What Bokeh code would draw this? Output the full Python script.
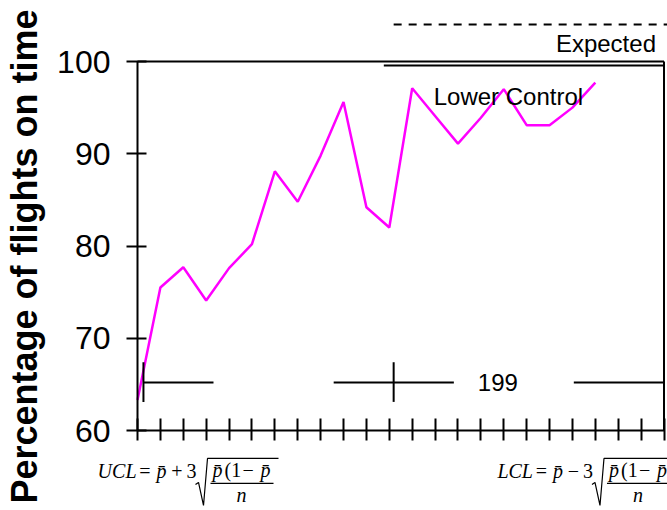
import math
from bokeh.plotting import figure
from bokeh.models import Range1d, FixedTicker, Label
from bokeh.embed import file_html
from bokeh.resources import INLINE

# ---- data ----
periods = list(range(21))
pct_on_time = [63.3, 75.5, 77.7, 74.1, 77.6, 80.2, 88.1, 84.8, 89.8, 95.6,
               84.2, 82.0, 97.1, 94.1, 91.1, 93.9, 97.0, 93.1, 93.1, 95.0, 97.7]
y_ticks = [60, 70, 80, 90, 100]
x_ticks = list(range(24))
y_title = "Percentage of flights on time"

expected_text = "Expected"
lower_text = "Lower Control"
run_text = "199"

# reference/annotation levels (data units)
expected_level = 104.0
expected_start = 11.19
lower_level = 99.57
lower_start = 10.76
run_level = 65.2
run_seg_start = [0.26, 8.57, 19.06]
run_seg_end = [3.32, 13.82, 23.0]
run_marks = [0.26, 11.19, 23.0]
run_text_x = 15.74

# axis box in data units and its place on the canvas
X0, X1, Y0, Y1 = 0, 23, 60, 100
W, H = 667, 510
FL, FR, FT, FB = 137, 663.5, 61, 430      # edges of the axis box (px)
PXX = (FR - FL) / (X1 - X0)
PXY = (FB - FT) / (Y1 - Y0)
xr = Range1d(X0 - FL / PXX, X1 + (W - FR) / PXX)
yr = Range1d(Y0 - (H - FB) / PXY, Y1 + FT / PXY)
BASE_FIX = 0.375   # label baseline correction (fraction of font size)

p = figure(width=W, height=H, output_backend="svg", toolbar_location=None,
           x_range=xr, y_range=yr, title=None,
           min_border=0, background_fill_color="white",
           border_fill_color="white")
p.grid.visible = False
p.outline_line_color = None

yax = p.yaxis[0]
yax.fixed_location = X0
yax.bounds = (Y0, Y1)
yax.ticker = FixedTicker(ticks=y_ticks)
yax.major_tick_in = 9
yax.major_tick_out = 11
yax.minor_tick_line_color = None
yax.axis_line_width = 2
yax.major_tick_line_width = 2
yax.axis_line_color = "black"
yax.major_tick_line_color = "black"
yax.major_label_text_font = "Liberation Sans"
yax.major_label_text_font_size = "32px"
yax.major_label_text_color = "black"
yax.major_label_standoff = 16

xax = p.xaxis[0]
xax.fixed_location = Y0
xax.bounds = (X0, X1)
xax.ticker = FixedTicker(ticks=x_ticks)
xax.major_tick_in = 12
xax.major_tick_out = 10
xax.minor_tick_line_color = None
xax.axis_line_width = 2
xax.major_tick_line_width = 2
xax.axis_line_color = "black"
xax.major_tick_line_color = "black"
xax.major_label_overrides = {t: "" for t in x_ticks}

# top and right sides of the axis box
p.segment(x0=[X0, X1], y0=[Y1, Y0], x1=[X1, X1], y1=[Y1, Y1],
          line_color="black", line_width=2)

# data series
p.line(periods, pct_on_time, line_color="#FF00FF", line_width=2.5)

# expected (dashed) and lower control lines
p.segment(x0=[expected_start], y0=[expected_level], x1=[X1 + 1], y1=[expected_level],
          line_color="black", line_width=2, line_dash="8 7")
p.segment(x0=[lower_start], y0=[lower_level], x1=[X1], y1=[lower_level],
          line_color="black", line_width=2)

# run marker
p.segment(x0=run_seg_start, y0=[run_level] * 3, x1=run_seg_end, y1=[run_level] * 3,
          line_color="black", line_width=2)
p.segment(x0=run_marks, y0=[run_level - 2.1] * 3, x1=run_marks, y1=[run_level + 2.2] * 3,
          line_color="black", line_width=2)

SANS = "Liberation Sans"
SERIF = "Liberation Serif"


def label(x, y, txt, fs, font=SANS, align="left", style="normal", dx=0, dy=0):
    p.add_layout(Label(x=x, y=y, x_offset=dx, y_offset=dy + BASE_FIX * fs,
                       text=txt, text_font=font, text_font_size=f"{fs}px",
                       text_font_style=style, text_align=align,
                       text_baseline="alphabetic", text_color="black"))


# y axis title
TS = 36
p.add_layout(Label(x=X0 + (37 - FL) / PXX, y=Y1 - (256 - FT) / PXY,
                   x_offset=-BASE_FIX * TS, angle=math.pi / 2, text=y_title,
                   text_font=SANS, text_font_size=f"{TS}px", text_font_style="bold",
                   text_align="center", text_baseline="alphabetic",
                   text_color="black"))

label(22.65, 100.98, expected_text, 24, align="right")
label(12.94, 95.23, lower_text, 24, align="left")
label(run_text_x, 64.23, run_text, 24, align="center")


# control-limit formulas
def put(x, y, dx, dy, txt, italic=False, align="center"):
    label(x, y, txt, 20, font=SERIF, align=align,
          style="italic" if italic else "normal", dx=dx, dy=dy)


def strokes(x, y, pts):
    p.line([x + a / PXX for a, b in pts], [y + b / PXY for a, b in pts],
           line_color="black", line_width=1.2)


def formula(eq_x, name, sign):
    y = 54.8
    put(eq_x, y, -1, 0, name, True, "right")
    put(eq_x, y, 7.5, 0, "=")
    put(eq_x, y, 24, 0, "p\u0304", True)
    put(eq_x, y, 39.5, 0, sign)
    put(eq_x, y, 54, 0, "3")
    put(eq_x, y, 75, 1, "p\u0304", True, "left")
    put(eq_x, y, 87, 1, "(1", False, "left")
    put(eq_x, y, 105, 1, "\u2212", False, "left")
    put(eq_x, y, 123, 1, "p\u0304", True, "left")
    put(eq_x, y, 104, -24, "n", True)
    strokes(eq_x, y, [(73, -5), (136, -5)])
    strokes(eq_x, y, [(58, -6), (61, -4), (66, -27), (70, 20), (141, 20)])


formula(0.0, "UCL", "+")
formula(17.32, "LCL", "\u2212")

open("out.html", "w").write(file_html(p, INLINE))
